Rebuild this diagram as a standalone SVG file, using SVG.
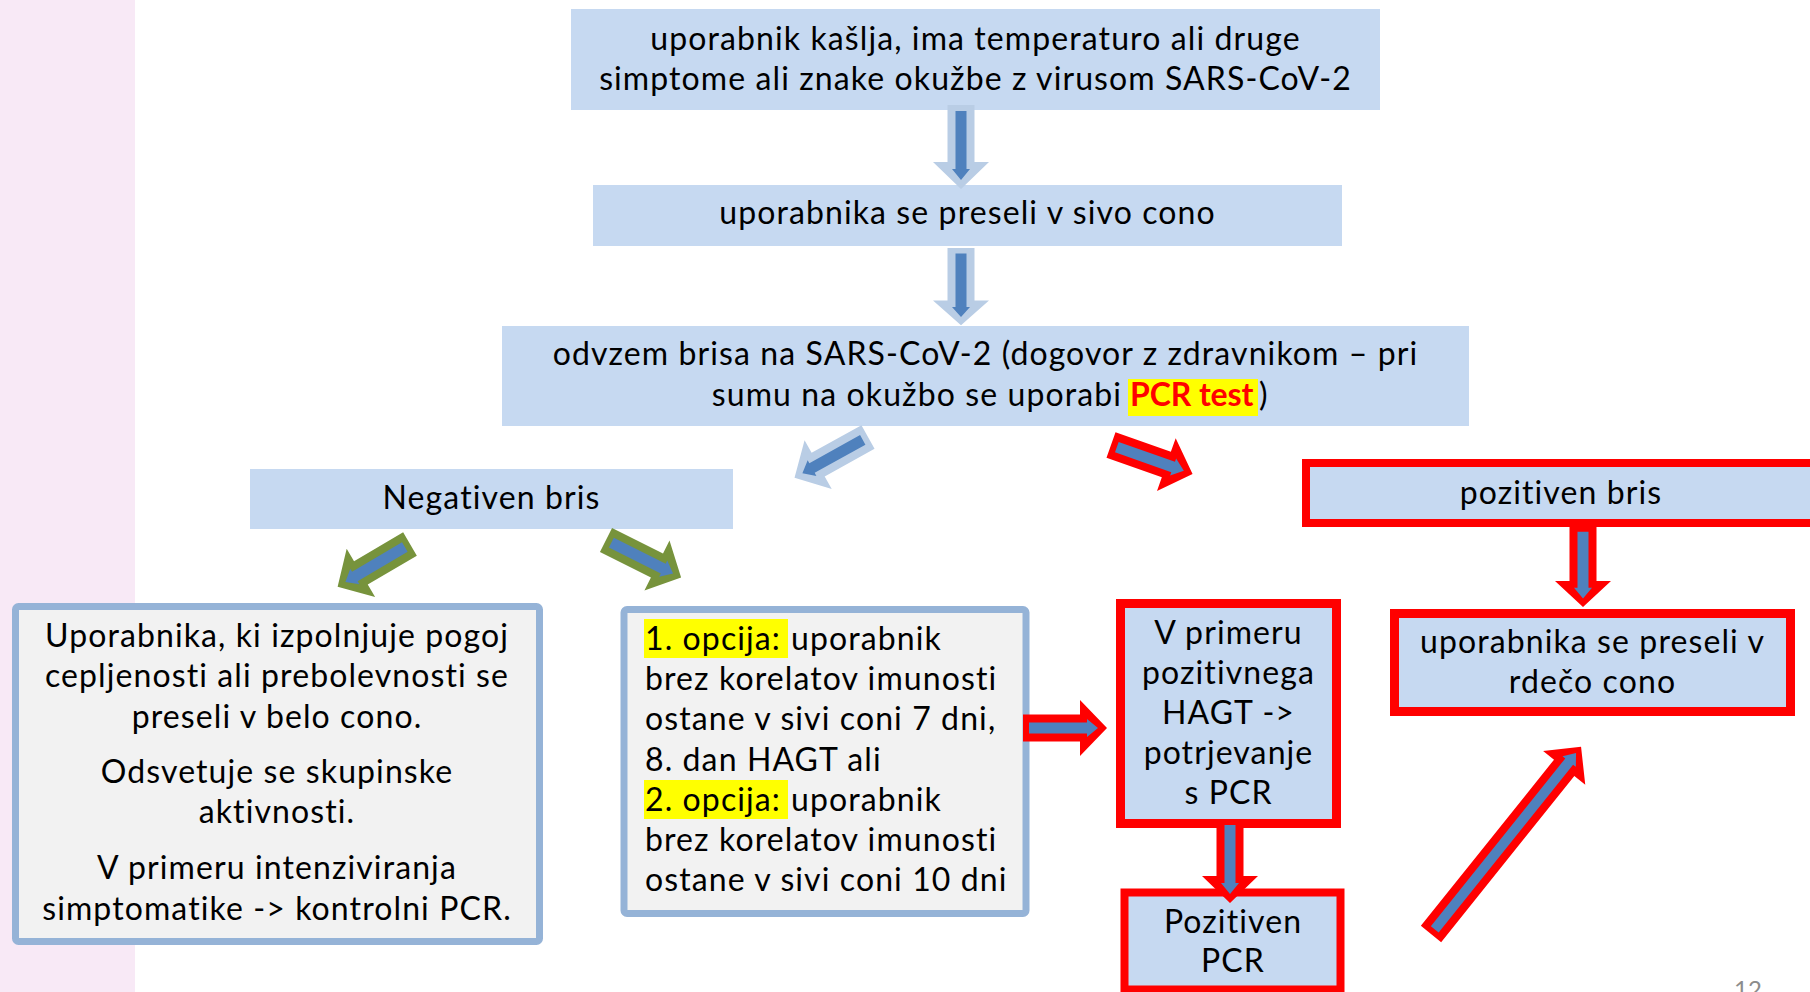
<svg xmlns="http://www.w3.org/2000/svg" xmlns:xlink="http://www.w3.org/1999/xlink" width="1810" height="992" viewBox="0 0 1810 992">
<style>
  text { font-family: Lato, "Liberation Sans", sans-serif; font-size: 32px; letter-spacing: 1.1px; fill: #000; }
  .c { text-anchor: middle; }
  .blue { fill: #C6D9F1; }
  .grey { fill: #F2F2F2; stroke: #95B3D7; stroke-width: 7; }
  .redbox { fill: #C6D9F1; stroke: #FF0000; stroke-width: 9; }
  .hl { fill: #FFFF00; }
  .ob { fill: #B9CDE5; }
  .og { fill: #77933C; }
  .or { fill: #FF0000; }
  .in { fill: #4F81BD; }
  .pcr { font-weight: bold; fill: #FF0000; letter-spacing: 0.5px; }
  .pg { font-size: 24px; fill: #8C8C8C; letter-spacing: 0; }
</style>
<defs>
  <polygon id="ao" points="0,-13.5 57,-13.5 57,-28 84,0 57,28 57,13.5 0,13.5"/>
  <polygon id="ai" points="6,-5.5 64,-5.5 64,-9 75,0 64,9 64,5.5 6,5.5"/>
  <polygon id="aoL" points="0,-13 213,-13 213,-27 240,0 213,27 213,13 0,13"/>
  <polygon id="aiL" points="6,-5 221,-5 221,-8.5 232,0 221,8.5 221,5 6,5"/>
</defs>

<rect x="0" y="0" width="135" height="992" fill="#F8E9F6"/>

<g id="n-symptoms">
  <rect class="blue" x="571" y="9" width="809" height="101"/>
  <text class="c" x="975.5" y="50">uporabnik kašlja, ima temperaturo ali druge</text>
  <text class="c" x="975.5" y="90">simptome ali znake okužbe z virusom SARS-CoV-2</text>
</g>

<g id="n-grey-zone">
  <rect class="blue" x="593" y="185" width="749" height="61"/>
  <text class="c" x="967.5" y="224">uporabnika se preseli v sivo cono</text>
</g>

<g id="n-swab">
  <rect class="blue" x="502" y="326" width="967" height="100"/>
  <text class="c" x="985.5" y="365">odvzem brisa na SARS-CoV-2 (dogovor z zdravnikom – pri</text>
  <rect class="hl" x="1128" y="379" width="130" height="37"/>
  <text x="1122" y="406" text-anchor="end">sumu na okužbo se uporabi</text>
  <text class="pcr" x="1130" y="406" textLength="124">PCR test</text>
  <text x="1259" y="406">)</text>
</g>

<g id="n-negative">
  <rect class="blue" x="250" y="469" width="483" height="60"/>
  <text class="c" x="491.5" y="509">Negativen bris</text>
</g>

<g id="n-white-zone">
  <rect class="grey" x="15.5" y="606.5" width="524" height="335" rx="3"/>
  <text class="c" x="277" y="647">Uporabnika, ki izpolnjuje pogoj</text>
  <text class="c" x="277" y="687">cepljenosti ali prebolevnosti se</text>
  <text class="c" x="277" y="728">preseli v belo cono.</text>
  <text class="c" x="277" y="783">Odsvetuje se skupinske</text>
  <text class="c" x="277" y="823">aktivnosti.</text>
  <text class="c" x="277" y="879">V primeru intenziviranja</text>
  <text class="c" x="277" y="920">simptomatike -&gt; kontrolni PCR.</text>
</g>

<g id="n-options">
  <rect class="grey" x="624" y="609.5" width="402" height="304" rx="3"/>
  <rect class="hl" x="644" y="619" width="144" height="39"/>
  <rect class="hl" x="644" y="780" width="144" height="39"/>
  <text x="645" y="650">1. opcija:<tspan x="791">uporabnik</tspan></text>
  <text x="645" y="690">brez korelatov imunosti</text>
  <text x="645" y="730">ostane v sivi coni 7 dni,</text>
  <text x="645" y="771">8. dan HAGT ali</text>
  <text x="645" y="811">2. opcija:<tspan x="791">uporabnik</tspan></text>
  <text x="645" y="851">brez korelatov imunosti</text>
  <text x="645" y="891">ostane v sivi coni 10 dni</text>
</g>

<g id="n-hagt">
  <rect class="redbox" x="1120.5" y="603.5" width="216" height="220"/>
  <text class="c" x="1228.5" y="644">V primeru</text>
  <text class="c" x="1228.5" y="684">pozitivnega</text>
  <text class="c" x="1228.5" y="724">HAGT -&gt;</text>
  <text class="c" x="1228.5" y="764">potrjevanje</text>
  <text class="c" x="1228.5" y="804">s PCR</text>
</g>

<g id="n-positive-pcr">
  <rect class="redbox" x="1124.5" y="892.5" width="216" height="97" style="stroke-width:8"/>
  <text class="c" x="1233" y="933">Pozitiven</text>
  <text class="c" x="1233" y="972">PCR</text>
</g>

<g id="n-positive">
  <rect class="redbox" x="1306" y="463" width="520" height="60" style="stroke-width:8"/>
  <text class="c" x="1561" y="504">pozitiven bris</text>
</g>

<g id="n-red-zone">
  <rect class="redbox" x="1394.5" y="613.5" width="396" height="98"/>
  <text class="c" x="1592.5" y="653">uporabnika se preseli v</text>
  <text class="c" x="1592.5" y="693">rdečo cono</text>
</g>

<text class="pg" x="1734" y="998">12</text>

<g id="connectors">
  <g transform="translate(961,105) rotate(90)">
    <use xlink:href="#ao" class="ob"/><use xlink:href="#ai" class="in"/>
  </g>
  <g transform="translate(961,248) rotate(90) scale(0.92,1)">
    <use xlink:href="#ao" class="ob"/><use xlink:href="#ai" class="in"/>
  </g>
  <g transform="translate(868,437) rotate(151)">
    <use xlink:href="#ao" class="ob"/><use xlink:href="#ai" class="in"/>
  </g>
  <g transform="translate(1111,445) rotate(19.5) scale(1.03,1)">
    <use xlink:href="#ao" class="or"/><use xlink:href="#ai" class="in"/>
  </g>
  <g transform="translate(410,544) rotate(149.5)">
    <use xlink:href="#ao" class="og"/><use xlink:href="#ai" class="in"/>
  </g>
  <g transform="translate(606,540) rotate(26.6)">
    <use xlink:href="#ao" class="og"/><use xlink:href="#ai" class="in"/>
  </g>
  <g transform="translate(1023,728)">
    <use xlink:href="#ao" class="or"/><use xlink:href="#ai" class="in"/>
  </g>
  <g transform="translate(1230,819) rotate(90)">
    <use xlink:href="#ao" class="or"/><use xlink:href="#ai" class="in"/>
  </g>
  <g transform="translate(1583,526) rotate(90) scale(0.965,1)">
    <use xlink:href="#ao" class="or"/><use xlink:href="#ai" class="in"/>
  </g>
  <g transform="translate(1431,934) rotate(-51.3)">
    <use xlink:href="#aoL" class="or"/><use xlink:href="#aiL" class="in"/>
  </g>
</g>
</svg>
